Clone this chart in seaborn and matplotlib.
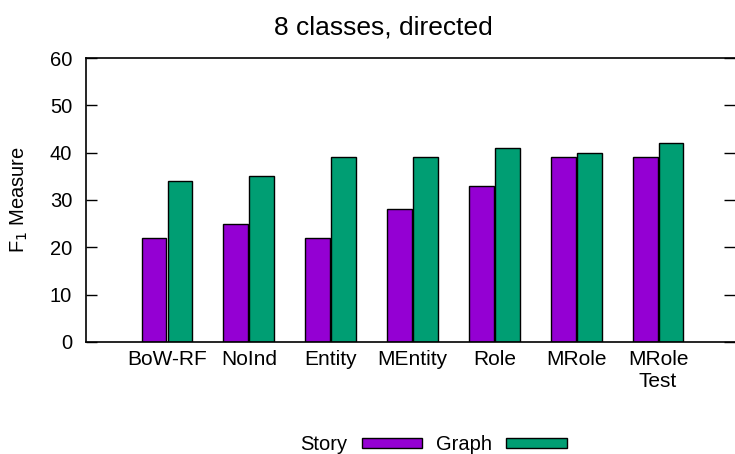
import matplotlib
matplotlib.use('Agg')
import matplotlib.pyplot as plt
from matplotlib.patches import Patch
import seaborn as sb
import pandas as pd

categories = ['BoW-RF', 'NoInd', 'Entity', 'MEntity', 'Role', 'MRole', 'MRole\nTest']
story = [22, 25, 22, 28, 33, 39, 39]
graph = [34, 35, 39, 39, 41, 40, 42]
series = ['Story', 'Graph']
colors = ['#9400D3', '#009E73']

df = pd.DataFrame({
    'method': categories * 2,
    'source': ['Story'] * len(story) + ['Graph'] * len(graph),
    'f1': story + graph,
})

sb.set_style('white')
plt.rcParams['font.family'] = ['Liberation Sans', 'DejaVu Sans']
plt.rcParams['text.color'] = 'black'
plt.rcParams['axes.labelcolor'] = 'black'
plt.rcParams['xtick.color'] = 'black'
plt.rcParams['ytick.color'] = 'black'

fig = plt.figure(figsize=(7.35, 4.54), dpi=100)
ax = fig.add_axes([0.117, 0.247, 0.883, 0.625])

sb.barplot(data=df, x='method', y='f1', hue='source', order=categories,
           hue_order=series, palette=colors, width=0.634, gap=0.04,
           edgecolor='black', linewidth=1.0, saturation=1, legend=False, ax=ax)

ax.set_xlim(-0.99, 6.94)
ax.set_ylim(0, 60)
ax.set_yticks(range(0, 61, 10))
ax.tick_params(axis='y', direction='in', length=8, width=1, labelsize=14.5,
               left=True, right=True, pad=10)
for t in ax.yaxis.get_ticklines():
    t.set_color('#555555')
ax.tick_params(axis='x', length=0, labelsize=15, pad=6)
for s in ax.spines.values():
    s.set_color('black')
    s.set_linewidth(1.2)
ax.spines['right'].set_visible(False)
ax.set_xlabel('')
ax.set_ylabel('F$_1$ Measure', fontsize=14.5, labelpad=14)
fig.text(383 / 735, 1 - 27 / 454, '8 classes, directed', fontsize=19,
         ha='center', va='center')

handles = [Patch(facecolor=c, edgecolor='black', linewidth=1.0, label=s)
           for c, s in zip(colors, series)]
fig.legend(handles=handles, loc='center', bbox_to_anchor=(0.59, 0.02), ncol=2,
           frameon=False, markerfirst=False, fontsize=14.5, handlelength=3.0,
           handleheight=0.4, columnspacing=0.7, handletextpad=0.7)

fig.savefig('out.png', dpi=100)
